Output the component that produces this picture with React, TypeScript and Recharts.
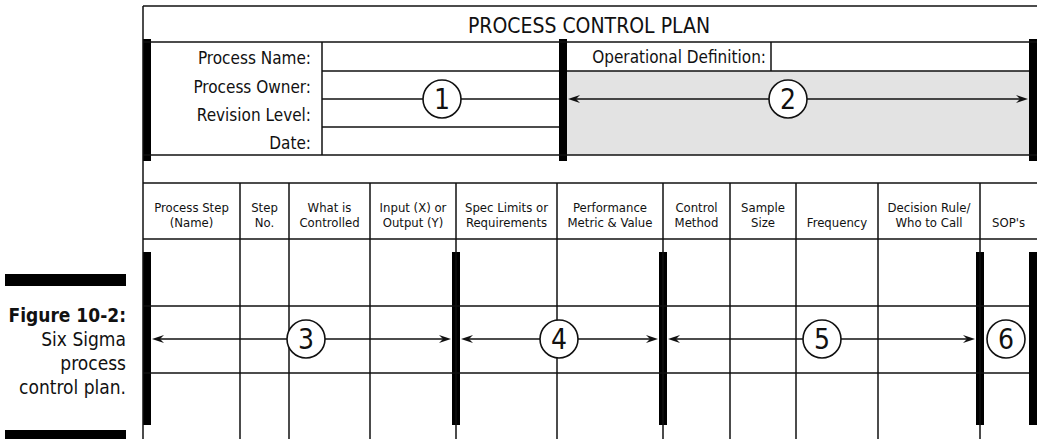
import React from 'react';
import { ComposedChart, XAxis, YAxis, Scatter, ReferenceLine, ReferenceArea } from 'recharts';

// form coordinates (one unit = one pixel of the 1037x439 sheet)
const W = 1037;
const H = 439;

const titleText = 'PROCESS CONTROL PLAN';
const infoLabels = ['Process Name:', 'Process Owner:', 'Revision Level:', 'Date:'];
const infoRowEdges = [42, 71, 99, 127, 155];
const headerRow = [183, 239];
const bodyRowEdges = [306, 373];
const colEdges = [143, 240, 289, 370, 456, 557, 663, 730, 796, 878, 980, 1037];
const headerLabels: string[][] = [
    ['Process Step', '(Name)'],
    ['Step', 'No.'],
    ['What is', 'Controlled'],
    ['Input (X) or', 'Output (Y)'],
    ['Spec Limits or', 'Requirements'],
    ['Performance', 'Metric & Value'],
    ['Control', 'Method'],
    ['Sample', 'Size'],
    ['', 'Frequency'],
    ['Decision Rule/', 'Who to Call'],
    ['', "SOP's"],
];
const topBars = [147, 563, 1033];
const bodyBars = [147, 456, 663, 980, 1033];
const captionLines = ['Figure 10-2:', 'Six Sigma', 'process', 'control plan.'];

// numbered callouts with the span of their arrows
const callouts = [
    { n: '1', x: 442, y: 99, from: 0, to: 0 },
    { n: '2', x: 788, y: 99, from: 568, to: 1028 },
    { n: '3', x: 306, y: 339, from: 152, to: 451 },
    { n: '4', x: 559, y: 339, from: 461, to: 658 },
    { n: '5', x: 822, y: 339, from: 668, to: 975 },
    { n: '6', x: 1006, y: 339, from: 0, to: 0 },
];

const FONT = "'Liberation Sans Narrow', 'DejaVu Sans Condensed', 'Roboto Condensed', 'Liberation Sans', sans-serif";
const INK = '#111';

const seg = (x1: number, y1: number, x2: number, y2: number) => [{ x: x1, y: y1 }, { x: x2, y: y2 }];

const lines: { x1: number; y1: number; x2: number; y2: number }[] = [
    { x1: 143, y1: 6, x2: W, y2: 6 },
    { x1: 143, y1: 6, x2: 143, y2: H },
    { x1: 143, y1: 42, x2: W, y2: 42 },
    { x1: 143, y1: 155, x2: W, y2: 155 },
    { x1: 322, y1: 42, x2: 322, y2: 155 },
    { x1: 771, y1: 42, x2: 771, y2: 71 },
    { x1: 567, y1: 71, x2: 1029, y2: 71 },
    ...infoRowEdges.slice(1, 4).map(y => ({ x1: 322, y1: y, x2: 559, y2: y })),
    ...headerRow.map(y => ({ x1: 143, y1: y, x2: W, y2: y })),
    ...bodyRowEdges.map(y => ({ x1: 143, y1: y, x2: 1029, y2: y })),
    ...colEdges.slice(1, -1).map(x => ({ x1: x, y1: headerRow[0], x2: x, y2: H })),
];

type Txt = { x: number; y: number; text: string; size: number; anchor: string; weight?: number };

const texts: Txt[] = [
    { x: 589, y: 33, text: titleText, size: 21, anchor: 'middle' },
    ...infoLabels.map((t, i) => ({ x: 311, y: infoRowEdges[i] + 22, text: t, size: 17, anchor: 'end' })),
    { x: 766, y: 63, text: 'Operational Definition:', size: 17, anchor: 'end' },
    ...headerLabels.flatMap((pair, i) => {
        const cx = (colEdges[i] + colEdges[i + 1]) / 2;
        return pair.map((t, k) => ({ x: cx, y: 212 + k * 15, text: t, size: 13, anchor: 'middle' }));
    }),
    ...captionLines.map((t, i) => ({ x: 126, y: 322 + i * 24, text: t, size: 19, anchor: 'end', weight: i === 0 ? 700 : 400 })),
];

const arrowHeads = callouts.flatMap(c =>
    c.to > c.from ? [{ x: c.from, y: c.y, dir: -1 }, { x: c.to, y: c.y, dir: 1 }] : []
);

const TextShape = (props: any) => {
    const { cx, cy, payload } = props;
    return (
        <text x={cx} y={cy} textAnchor={payload.anchor} fontSize={payload.size} fontWeight={payload.weight || 400}
            fontFamily={FONT} fill={INK}>
            {payload.text}
        </text>
    );
};

const ArrowShape = (props: any) => {
    const { cx, cy, payload } = props;
    const d = payload.dir;
    const pts = [
        [cx, cy],
        [cx - d * 12, cy - 4],
        [cx - d * 8, cy],
        [cx - d * 12, cy + 4],
    ].map(p => p.join(',')).join(' ');
    return <polygon points={pts} fill={INK} />;
};

const CalloutShape = (props: any) => {
    const { cx, cy, payload } = props;
    return (
        <g>
            <circle cx={cx} cy={cy} r={19} fill="#fff" stroke={INK} strokeWidth={1.6} />
            <text x={cx} y={cy + 10} textAnchor="middle" fontSize={28} fontFamily={FONT} fill={INK}>{payload.n}</text>
        </g>
    );
};

const App: React.FC = () => {
    return (
        <div style={{ position: 'absolute', left: 0, top: 0, width: W, height: H, background: '#fff' }}>
            <ComposedChart width={W} height={H} margin={{ top: 0, right: 0, bottom: 0, left: 0 }}>
                <XAxis type="number" dataKey="x" domain={[0, W]} hide />
                <YAxis type="number" dataKey="y" domain={[0, H]} reversed hide />

                <ReferenceArea x1={567} x2={1029} y1={71} y2={155} fill="#e3e3e3" fillOpacity={1} stroke="none" />

                {lines.map((l, i) => (
                    <ReferenceLine key={`l-${i}`} segment={seg(l.x1, l.y1, l.x2, l.y2)} stroke={INK} strokeWidth={1.5} />
                ))}
                {callouts.filter(c => c.to > c.from).map(c => (
                    <ReferenceLine key={`a-${c.n}`} segment={seg(c.from + 4, c.y, c.to - 4, c.y)} stroke={INK} strokeWidth={1.5} />
                ))}

                {topBars.map(x => (
                    <ReferenceArea key={`tb-${x}`} x1={x - 4} x2={x + 4} y1={39} y2={161} fill="#000" fillOpacity={1} stroke="none" />
                ))}
                {bodyBars.map(x => (
                    <ReferenceArea key={`bb-${x}`} x1={x - 4} x2={x + 4} y1={252} y2={425} fill="#000" fillOpacity={1} stroke="none" />
                ))}
                <ReferenceArea x1={5} x2={126} y1={274} y2={286} fill="#000" fillOpacity={1} stroke="none" />
                <ReferenceArea x1={5} x2={126} y1={430} y2={H} fill="#000" fillOpacity={1} stroke="none" />

                <Scatter data={arrowHeads} shape={ArrowShape} isAnimationActive={false} />
                <Scatter data={callouts} shape={CalloutShape} isAnimationActive={false} />
                <Scatter data={texts} shape={TextShape} isAnimationActive={false} />
            </ComposedChart>
        </div>
    );
};

export default App;
